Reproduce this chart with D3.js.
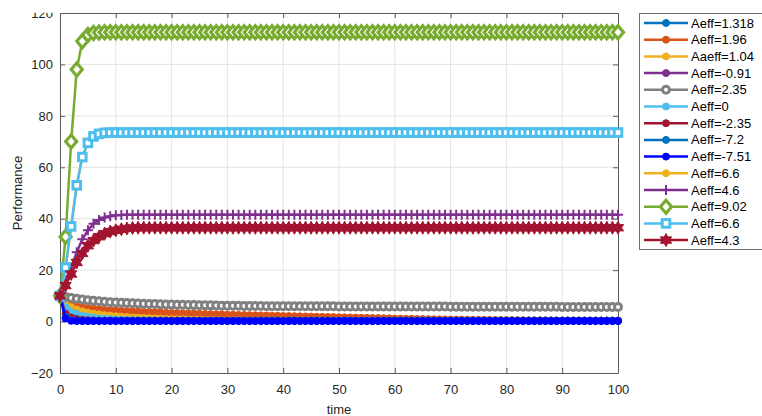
<html>
<head>
<meta charset="utf-8">
<script src="https://d3js.org/d3.v7.min.js"></script>
<style>
  body { margin: 0; background: #fff; }
  svg { display: block; font-family: "Liberation Sans", Arial, sans-serif; }
  .tick-label { font-size: 13px; fill: #262626; }
  .legend-text { font-size: 13px; fill: #000; }
</style>
</head>
<body>
<svg id="chart" width="762" height="416"></svg>
<script>
// time steps 0..100
const time = d3.range(0, 101);

const names = ["Aeff=1.318", "Aeff=1.96", "Aaeff=1.04", "Aeff=-0.91", "Aeff=2.35", "Aeff=0", "Aeff=-2.35",
               "Aeff=-7.2", "Aeff=-7.51", "Aeff=6.6", "Aeff=4.6", "Aeff=9.02", "Aeff=6.6", "Aeff=4.3"];
const colors = ["#0072BD", "#D95319", "#EDB120", "#7E2F8E", "#808080", "#4DBEEE", "#A2142F",
                "#0072BD", "#0000FF", "#EDB120", "#7E2F8E", "#77AC30", "#4DBEEE", "#A2142F"];
const markers = ["circle", "circle", "circle", "circle", "ocircle", "circle", "circle",
                 "circle", "circle", "circle", "plus", "diamond", "square", "hexagram"];

const a1318 = [
10,6.5,5.0,4.0,3.3,2.8,2.4,2.1,1.8,1.6,
1.4,1.25,1.1,1.0,0.9,0.8,0.72,0.65,0.6,0.55,
0.5,0.46,0.42,0.4,0.38,0.36,0.34,0.33,0.32,0.31,
0.3,0.3,0.3,0.3,0.3,0.3,0.3,0.3,0.3,0.3,
0.3,0.3,0.3,0.3,0.3,0.3,0.3,0.3,0.3,0.3,
0.3,0.3,0.3,0.3,0.3,0.3,0.3,0.3,0.3,0.3,
0.3,0.3,0.3,0.3,0.3,0.3,0.3,0.3,0.3,0.3,
0.3,0.3,0.3,0.3,0.3,0.3,0.3,0.3,0.3,0.3,
0.3,0.3,0.3,0.3,0.3,0.3,0.3,0.3,0.3,0.3,
0.3,0.3,0.3,0.3,0.3,0.3,0.3,0.3,0.3,0.3,
0.3];
const a196 = [
10,7.5,6.5,6.0,5.6,5.3,5.0,4.8,4.6,4.4,
4.3,4.2,4.1,4.0,3.9,3.8,3.7,3.6,3.5,3.4,
3.35,3.3,3.2,3.15,3.1,3.0,2.95,2.9,2.85,2.8,
2.7,2.65,2.6,2.55,2.5,2.45,2.4,2.35,2.3,2.25,
2.2,2.15,2.1,2.05,2.0,1.95,1.9,1.85,1.8,1.75,
1.7,1.65,1.6,1.55,1.5,1.45,1.4,1.35,1.3,1.25,
1.2,1.15,1.1,1.05,1.0,0.97,0.94,0.91,0.88,0.85,
0.82,0.79,0.76,0.73,0.7,0.68,0.66,0.64,0.62,0.6,
0.58,0.56,0.54,0.52,0.5,0.49,0.48,0.47,0.46,0.45,
0.44,0.43,0.42,0.41,0.4,0.39,0.38,0.37,0.36,0.35,
0.35];
const a104 = [
10,7,5.6,4.7,4.0,3.5,3.1,2.8,2.5,2.3,
2.1,1.9,1.75,1.6,1.5,1.4,1.3,1.2,1.1,1.0,
0.95,0.9,0.85,0.8,0.75,0.7,0.66,0.62,0.58,0.55,
0.52,0.5,0.48,0.46,0.44,0.42,0.4,0.39,0.38,0.37,
0.36,0.36,0.36,0.36,0.36,0.36,0.36,0.36,0.36,0.36,
0.36,0.36,0.36,0.36,0.36,0.36,0.36,0.36,0.36,0.36,
0.36,0.36,0.36,0.36,0.36,0.36,0.36,0.36,0.36,0.36,
0.36,0.36,0.36,0.36,0.36,0.36,0.36,0.36,0.36,0.36,
0.36,0.36,0.36,0.36,0.36,0.36,0.36,0.36,0.36,0.36,
0.36,0.36,0.36,0.36,0.36,0.36,0.36,0.36,0.36,0.36,
0.36];
const aNeg091 = [
10,4.5,2.8,2.0,1.5,1.1,0.9,0.7,0.6,0.5,
0.45,0.4,0.38,0.36,0.35,0.35,0.35,0.35,0.35,0.35,
0.35,0.35,0.35,0.35,0.35,0.35,0.35,0.35,0.35,0.35,
0.35,0.35,0.35,0.35,0.35,0.35,0.35,0.35,0.35,0.35,
0.35,0.35,0.35,0.35,0.35,0.35,0.35,0.35,0.35,0.35,
0.35,0.35,0.35,0.35,0.35,0.35,0.35,0.35,0.35,0.35,
0.35,0.35,0.35,0.35,0.35,0.35,0.35,0.35,0.35,0.35,
0.35,0.35,0.35,0.35,0.35,0.35,0.35,0.35,0.35,0.35,
0.35,0.35,0.35,0.35,0.35,0.35,0.35,0.35,0.35,0.35,
0.35,0.35,0.35,0.35,0.35,0.35,0.35,0.35,0.35,0.35,
0.35];
const a235 = [
10,9.6,9.2,8.9,8.6,8.3,8.1,7.9,7.7,7.5,
7.4,7.3,7.2,7.1,7.0,6.9,6.85,6.8,6.7,6.65,
6.6,6.55,6.5,6.45,6.4,6.35,6.3,6.3,6.25,6.2,
6.2,6.15,6.15,6.1,6.1,6.05,6.05,6.0,6.0,6.0,
5.95,5.95,5.95,5.95,5.95,5.95,5.95,5.95,5.95,5.95,
5.9,5.9,5.9,5.9,5.9,5.9,5.9,5.9,5.9,5.9,
5.85,5.85,5.85,5.85,5.85,5.85,5.85,5.85,5.85,5.85,
5.8,5.8,5.8,5.8,5.8,5.8,5.8,5.8,5.8,5.8,
5.75,5.75,5.75,5.75,5.75,5.75,5.75,5.75,5.75,5.75,
5.7,5.7,5.7,5.7,5.7,5.7,5.7,5.7,5.7,5.7,
5.7];
const a0 = [
10,5.5,3.8,2.9,2.3,1.9,1.6,1.3,1.1,0.95,
0.85,0.75,0.65,0.6,0.55,0.5,0.47,0.44,0.42,0.4,
0.38,0.38,0.38,0.38,0.38,0.38,0.38,0.38,0.38,0.38,
0.38,0.38,0.38,0.38,0.38,0.38,0.38,0.38,0.38,0.38,
0.38,0.38,0.38,0.38,0.38,0.38,0.38,0.38,0.38,0.38,
0.38,0.38,0.38,0.38,0.38,0.38,0.38,0.38,0.38,0.38,
0.38,0.38,0.38,0.38,0.38,0.38,0.38,0.38,0.38,0.38,
0.38,0.38,0.38,0.38,0.38,0.38,0.38,0.38,0.38,0.38,
0.38,0.38,0.38,0.38,0.38,0.38,0.38,0.38,0.38,0.38,
0.38,0.38,0.38,0.38,0.38,0.38,0.38,0.38,0.38,0.38,
0.38];
const aNeg235 = [
10,3.0,1.6,1.0,0.7,0.55,0.45,0.4,0.38,0.36,
0.35,0.35,0.35,0.35,0.35,0.35,0.35,0.35,0.35,0.35,
0.35,0.35,0.35,0.35,0.35,0.35,0.35,0.35,0.35,0.35,
0.35,0.35,0.35,0.35,0.35,0.35,0.35,0.35,0.35,0.35,
0.35,0.35,0.35,0.35,0.35,0.35,0.35,0.35,0.35,0.35,
0.35,0.35,0.35,0.35,0.35,0.35,0.35,0.35,0.35,0.35,
0.35,0.35,0.35,0.35,0.35,0.35,0.35,0.35,0.35,0.35,
0.35,0.35,0.35,0.35,0.35,0.35,0.35,0.35,0.35,0.35,
0.35,0.35,0.35,0.35,0.35,0.35,0.35,0.35,0.35,0.35,
0.35,0.35,0.35,0.35,0.35,0.35,0.35,0.35,0.35,0.35,
0.35];
const aNeg72 = [
10,1.8,0.6,0.35,0.3,0.3,0.3,0.3,0.3,0.3,
0.3,0.3,0.3,0.3,0.3,0.3,0.3,0.3,0.3,0.3,
0.3,0.3,0.3,0.3,0.3,0.3,0.3,0.3,0.3,0.3,
0.3,0.3,0.3,0.3,0.3,0.3,0.3,0.3,0.3,0.3,
0.3,0.3,0.3,0.3,0.3,0.3,0.3,0.3,0.3,0.3,
0.3,0.3,0.3,0.3,0.3,0.3,0.3,0.3,0.3,0.3,
0.3,0.3,0.3,0.3,0.3,0.3,0.3,0.3,0.3,0.3,
0.3,0.3,0.3,0.3,0.3,0.3,0.3,0.3,0.3,0.3,
0.3,0.3,0.3,0.3,0.3,0.3,0.3,0.3,0.3,0.3,
0.3,0.3,0.3,0.3,0.3,0.3,0.3,0.3,0.3,0.3,
0.3];
const aNeg751 = [
10,1.2,0.3,0.2,0.2,0.2,0.2,0.2,0.2,0.2,
0.2,0.2,0.2,0.2,0.2,0.2,0.2,0.2,0.2,0.2,
0.2,0.2,0.2,0.2,0.2,0.2,0.2,0.2,0.2,0.2,
0.2,0.2,0.2,0.2,0.2,0.2,0.2,0.2,0.2,0.2,
0.2,0.2,0.2,0.2,0.2,0.2,0.2,0.2,0.2,0.2,
0.2,0.2,0.2,0.2,0.2,0.2,0.2,0.2,0.2,0.2,
0.2,0.2,0.2,0.2,0.2,0.2,0.2,0.2,0.2,0.2,
0.2,0.2,0.2,0.2,0.2,0.2,0.2,0.2,0.2,0.2,
0.2,0.2,0.2,0.2,0.2,0.2,0.2,0.2,0.2,0.2,
0.2,0.2,0.2,0.2,0.2,0.2,0.2,0.2,0.2,0.2,
0.2];
const a66 = [
10,21,37,53,64,69.5,72,73,73.4,73.5,
73.5,73.5,73.5,73.5,73.5,73.5,73.5,73.5,73.5,73.5,
73.5,73.5,73.5,73.5,73.5,73.5,73.5,73.5,73.5,73.5,
73.5,73.5,73.5,73.5,73.5,73.5,73.5,73.5,73.5,73.5,
73.5,73.5,73.5,73.5,73.5,73.5,73.5,73.5,73.5,73.5,
73.5,73.5,73.5,73.5,73.5,73.5,73.5,73.5,73.5,73.5,
73.5,73.5,73.5,73.5,73.5,73.5,73.5,73.5,73.5,73.5,
73.5,73.5,73.5,73.5,73.5,73.5,73.5,73.5,73.5,73.5,
73.5,73.5,73.5,73.5,73.5,73.5,73.5,73.5,73.5,73.5,
73.5,73.5,73.5,73.5,73.5,73.5,73.5,73.5,73.5,73.5,
73.5];
const a46 = [
10,15,21,27,32,35.5,38,39.5,40.5,41,
41.3,41.4,41.5,41.5,41.5,41.5,41.5,41.5,41.5,41.5,
41.5,41.5,41.5,41.5,41.5,41.5,41.5,41.5,41.5,41.5,
41.5,41.5,41.5,41.5,41.5,41.5,41.5,41.5,41.5,41.5,
41.5,41.5,41.5,41.5,41.5,41.5,41.5,41.5,41.5,41.5,
41.5,41.5,41.5,41.5,41.5,41.5,41.5,41.5,41.5,41.5,
41.5,41.5,41.5,41.5,41.5,41.5,41.5,41.5,41.5,41.5,
41.5,41.5,41.5,41.5,41.5,41.5,41.5,41.5,41.5,41.5,
41.5,41.5,41.5,41.5,41.5,41.5,41.5,41.5,41.5,41.5,
41.5,41.5,41.5,41.5,41.5,41.5,41.5,41.5,41.5,41.5,
41.5];
const a902 = [
10,33,70,98,109,111.5,112.2,112.4,112.5,112.5,
112.5,112.5,112.5,112.5,112.5,112.5,112.5,112.5,112.5,112.5,
112.5,112.5,112.5,112.5,112.5,112.5,112.5,112.5,112.5,112.5,
112.5,112.5,112.5,112.5,112.5,112.5,112.5,112.5,112.5,112.5,
112.5,112.5,112.5,112.5,112.5,112.5,112.5,112.5,112.5,112.5,
112.5,112.5,112.5,112.5,112.5,112.5,112.5,112.5,112.5,112.5,
112.5,112.5,112.5,112.5,112.5,112.5,112.5,112.5,112.5,112.5,
112.5,112.5,112.5,112.5,112.5,112.5,112.5,112.5,112.5,112.5,
112.5,112.5,112.5,112.5,112.5,112.5,112.5,112.5,112.5,112.5,
112.5,112.5,112.5,112.5,112.5,112.5,112.5,112.5,112.5,112.5,
112.5];
const a43 = [
10,14,18.5,23,26.5,29.5,31.5,33,34.2,35,
35.5,35.9,36.2,36.4,36.5,36.5,36.5,36.5,36.5,36.5,
36.5,36.5,36.5,36.5,36.5,36.5,36.5,36.5,36.5,36.5,
36.5,36.5,36.5,36.5,36.5,36.5,36.5,36.5,36.5,36.5,
36.5,36.5,36.5,36.5,36.5,36.5,36.5,36.5,36.5,36.5,
36.5,36.5,36.5,36.5,36.5,36.5,36.5,36.5,36.5,36.5,
36.5,36.5,36.5,36.5,36.5,36.5,36.5,36.5,36.5,36.5,
36.5,36.5,36.5,36.5,36.5,36.5,36.5,36.5,36.5,36.5,
36.5,36.5,36.5,36.5,36.5,36.5,36.5,36.5,36.5,36.5,
36.5,36.5,36.5,36.5,36.5,36.5,36.5,36.5,36.5,36.5,
36.5];

// the yellow Aeff=6.6 run sits under the light blue one
const seriesValues = [a1318, a196, a104, aNeg091, a235, a0, aNeg235, aNeg72, aNeg751, a66, a46, a902, a66, a43];

const xTicks = [0, 10, 20, 30, 40, 50, 60, 70, 80, 90, 100];
const yTicks = [-20, 0, 20, 40, 60, 80, 100, 120];

const svg = d3.select("#chart");
const x = d3.scaleLinear().domain([0, 100]).range([60, 618]);
const y = d3.scaleLinear().domain([-20, 120]).range([373, 13]);

// grid
svg.append("g").selectAll("line").data(xTicks.slice(1, -1)).join("line")
  .attr("x1", d => x(d)).attr("x2", d => x(d)).attr("y1", y(-20)).attr("y2", y(120))
  .attr("stroke", "#e3e3e3").attr("stroke-width", 1);
svg.append("g").selectAll("line").data(yTicks.slice(1, -1)).join("line")
  .attr("x1", x(0)).attr("x2", x(100)).attr("y1", d => y(d)).attr("y2", d => y(d))
  .attr("stroke", "#e3e3e3").attr("stroke-width", 1);

// axes (matlab style, ticks inside, box on)
const axisColor = "#5a5a5a";
function styleAxis(g) {
  g.select(".domain").attr("stroke", axisColor);
  g.selectAll(".tick line").attr("stroke", axisColor);
  g.selectAll(".tick text").attr("class", "tick-label").attr("font-family", null).attr("font-size", null);
}
svg.append("g").attr("transform", `translate(0,${y(-20)})`)
  .call(d3.axisBottom(x).tickValues(xTicks).tickSizeInner(-5).tickSizeOuter(0).tickPadding(12))
  .call(styleAxis);
svg.append("g").attr("transform", `translate(0,${y(120)})`)
  .call(d3.axisTop(x).tickValues(xTicks).tickSizeInner(-5).tickSizeOuter(0).tickFormat(""))
  .call(styleAxis);
svg.append("g").attr("transform", `translate(${x(0)},0)`)
  .call(d3.axisLeft(y).tickValues(yTicks).tickSizeInner(-5).tickSizeOuter(0).tickPadding(7))
  .call(styleAxis);
svg.append("g").attr("transform", `translate(${x(100)},0)`)
  .call(d3.axisRight(y).tickValues(yTicks).tickSizeInner(-5).tickSizeOuter(0).tickFormat(""))
  .call(styleAxis);

// marker shapes
function hexagram(r) {
  const pts = [];
  for (let i = 0; i < 12; i++) {
    const a = -Math.PI / 2 + i * Math.PI / 6;
    const rr = i % 2 === 0 ? r : r * 0.55;
    pts.push([rr * Math.cos(a), rr * Math.sin(a)]);
  }
  return "M" + pts.map(p => p.join(",")).join("L") + "Z";
}
function drawMarker(g, type, color) {
  if (type === "circle") {
    g.append("circle").attr("r", 3.5).attr("fill", color).attr("stroke", color).attr("stroke-width", 1);
  } else if (type === "ocircle") {
    g.append("circle").attr("r", 3.5).attr("fill", "#fff").attr("stroke", color).attr("stroke-width", 3);
  } else if (type === "plus") {
    g.append("path").attr("d", "M-5,0H5M0,-5V5").attr("stroke", color).attr("stroke-width", 2).attr("fill", "none");
  } else if (type === "diamond") {
    g.append("path").attr("d", "M0,-6.5L5.5,0L0,6.5L-5.5,0Z").attr("fill", "#fff").attr("stroke", color).attr("stroke-width", 3.2);
  } else if (type === "square") {
    g.append("rect").attr("x", -3.8).attr("y", -3.8).attr("width", 7.6).attr("height", 7.6)
      .attr("fill", "#fff").attr("stroke", color).attr("stroke-width", 3);
  } else if (type === "hexagram") {
    g.append("path").attr("d", hexagram(6.5)).attr("fill", color).attr("stroke", color).attr("stroke-width", 1);
  }
}

// series
const line = d3.line().x((d, i) => x(time[i])).y(d => y(d));
const plot = svg.append("g");
seriesValues.forEach((vals, k) => {
  const g = plot.append("g");
  g.append("path").datum(vals).attr("d", line)
    .attr("fill", "none").attr("stroke", colors[k]).attr("stroke-width", 2.5).attr("stroke-linejoin", "round");
  vals.forEach((v, i) => {
    const m = g.append("g").attr("transform", `translate(${x(time[i])},${y(v)})`);
    drawMarker(m, markers[k], colors[k]);
  });
});

// white strip at top (figure is cropped there)
svg.append("rect").attr("x", 0).attr("y", 0).attr("width", 636).attr("height", 12.8).attr("fill", "#fff");

// axis labels
svg.append("text").attr("class", "tick-label").attr("text-anchor", "middle")
  .attr("transform", `translate(22,${(y(-20) + y(120)) / 2}) rotate(-90)`).text("Performance");
svg.append("text").attr("class", "tick-label").attr("text-anchor", "middle")
  .attr("x", (x(0) + x(100)) / 2).attr("y", 414).text("time");

// legend
const legend = svg.append("g");
legend.append("rect").attr("x", 639.5).attr("y", 13.5).attr("width", 130).attr("height", 236)
  .attr("fill", "#fff").attr("stroke", "#6e6e6e").attr("stroke-width", 1);
names.forEach((name, k) => {
  const ly = 23 + k * 16.7;
  const row = legend.append("g").attr("transform", `translate(0,${ly})`);
  row.append("line").attr("x1", 644).attr("x2", 688).attr("y1", 0).attr("y2", 0)
    .attr("stroke", colors[k]).attr("stroke-width", 2.5);
  const m = row.append("g").attr("transform", "translate(666,0)");
  drawMarker(m, markers[k], colors[k]);
  row.append("text").attr("class", "legend-text").attr("x", 691).attr("y", 4.5).text(name);
});
</script>
</body>
</html>
